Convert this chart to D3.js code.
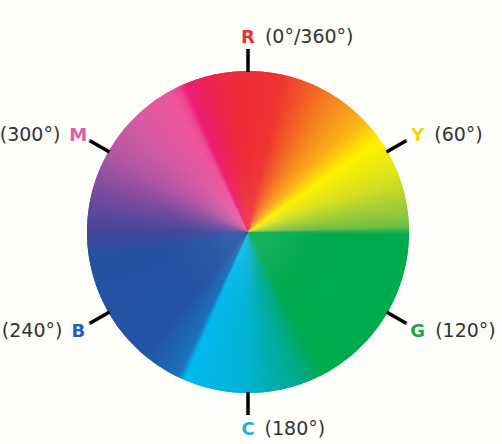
<!DOCTYPE html>
<html>
<head>
<meta charset="utf-8">
<script src="https://cdn.jsdelivr.net/npm/d3@7"></script>
<style>
  body { margin: 0; background: #fdfdf9; }
  svg { display: block; }
</style>
</head>
<body>
<script>
// colour stops round the wheel, degrees clockwise from the top
var stopAngles = [0, 12, 30, 45, 55, 70, 84, 88, 91, 150, 154, 160, 180, 203, 206, 220, 260, 270, 285, 300, 316, 331, 334, 337, 346, 355, 360];
var stopColors = ["#ed2d36", "#ee3432", "#f47b20", "#fbb315", "#fff200", "#d7e021", "#8dc63f", "#6abd45", "#00aa4f", "#00ab4e", "#00aa58", "#00aa85", "#03b2d2", "#00b9ef", "#1b70ba", "#2354a4", "#2452a2", "#41479b", "#7a4b9e", "#b557a4", "#da5aa3", "#ef559b", "#ee4893", "#ec1e74", "#ec2450", "#ed2c3a", "#ed2d36"];

// labels at the six primary / secondary hues
var labelAngles = [0, 60, 120, 180, 240, 300];
var labelLetters = ["R", "Y", "G", "C", "B", "M"];
var labelDegrees = ["(0°/360°)", "(60°)", "(120°)", "(180°)", "(240°)", "(300°)"];
var letterColors = ["#ed2f3a", "#efd80a", "#1da548", "#1ab3d8", "#2b5bb5", "#e05ca8"];

var svgWidth = 502;
var svgHeight = 444;
var cx = 248, cy = 232;
var radius = 161;

var svg = d3.select("body")
  .append("svg")
  .attr("width", svgWidth)
  .attr("height", svgHeight);

var g = svg.append("g")
  .attr("transform", "translate(" + cx + "," + cy + ")");

// colour and angle scales
var colorScale = d3.scaleLinear()
  .domain(stopAngles)
  .range(stopColors)
  .interpolate(d3.interpolateRgb);

var angleScale = d3.scaleLinear()
  .domain([0, 360])
  .range([0, 2 * Math.PI]);

var step = 0.5;
var steps = d3.range(0, 360, step);

// each wedge slightly overlaps the next to hide seams
var arc = d3.arc()
  .innerRadius(0)
  .outerRadius(radius)
  .startAngle(function (d) { return angleScale(d); })
  .endAngle(function (d) { return angleScale(d + step * 2); });

g.selectAll("path.wedge")
  .data(steps)
  .enter()
  .append("path")
  .attr("class", "wedge")
  .attr("d", arc)
  .attr("fill", function (d) { return colorScale(d + step / 2); });

// tick marks
g.selectAll("line.tick")
  .data(labelAngles)
  .enter()
  .append("line")
  .attr("class", "tick")
  .attr("x1", function (d) { return (radius - 1) * Math.sin(angleScale(d)); })
  .attr("y1", function (d) { return -(radius - 1) * Math.cos(angleScale(d)); })
  .attr("x2", function (d) { return (radius + 22) * Math.sin(angleScale(d)); })
  .attr("y2", function (d) { return -(radius + 22) * Math.cos(angleScale(d)); })
  .attr("stroke", "#000")
  .attr("stroke-width", 3.5);

// letters and degree captions
var labelR = 196;
labelAngles.forEach(function (a, i) {
  var lx = labelR * Math.sin(angleScale(a));
  var ly = -labelR * Math.cos(angleScale(a));

  var letter = g.append("text")
    .attr("x", lx)
    .attr("y", ly + 7)
    .attr("text-anchor", "middle")
    .style("font-family", "'DejaVu Sans', sans-serif")
    .style("font-weight", "bold")
    .style("font-size", "18px")
    .style("fill", letterColors[i])
    .text(labelLetters[i]);

  var w = letter.node().getComputedTextLength();
  var onLeft = a > 180;

  g.append("text")
    .attr("x", onLeft ? lx - w / 2 - 9 : lx + w / 2 + 10)
    .attr("y", ly + 7)
    .attr("text-anchor", onLeft ? "end" : "start")
    .style("font-family", "'DejaVu Sans', sans-serif")
    .style("font-size", "19px")
    .style("fill", "#333")
    .text(labelDegrees[i]);
});
</script>
</body>
</html>
